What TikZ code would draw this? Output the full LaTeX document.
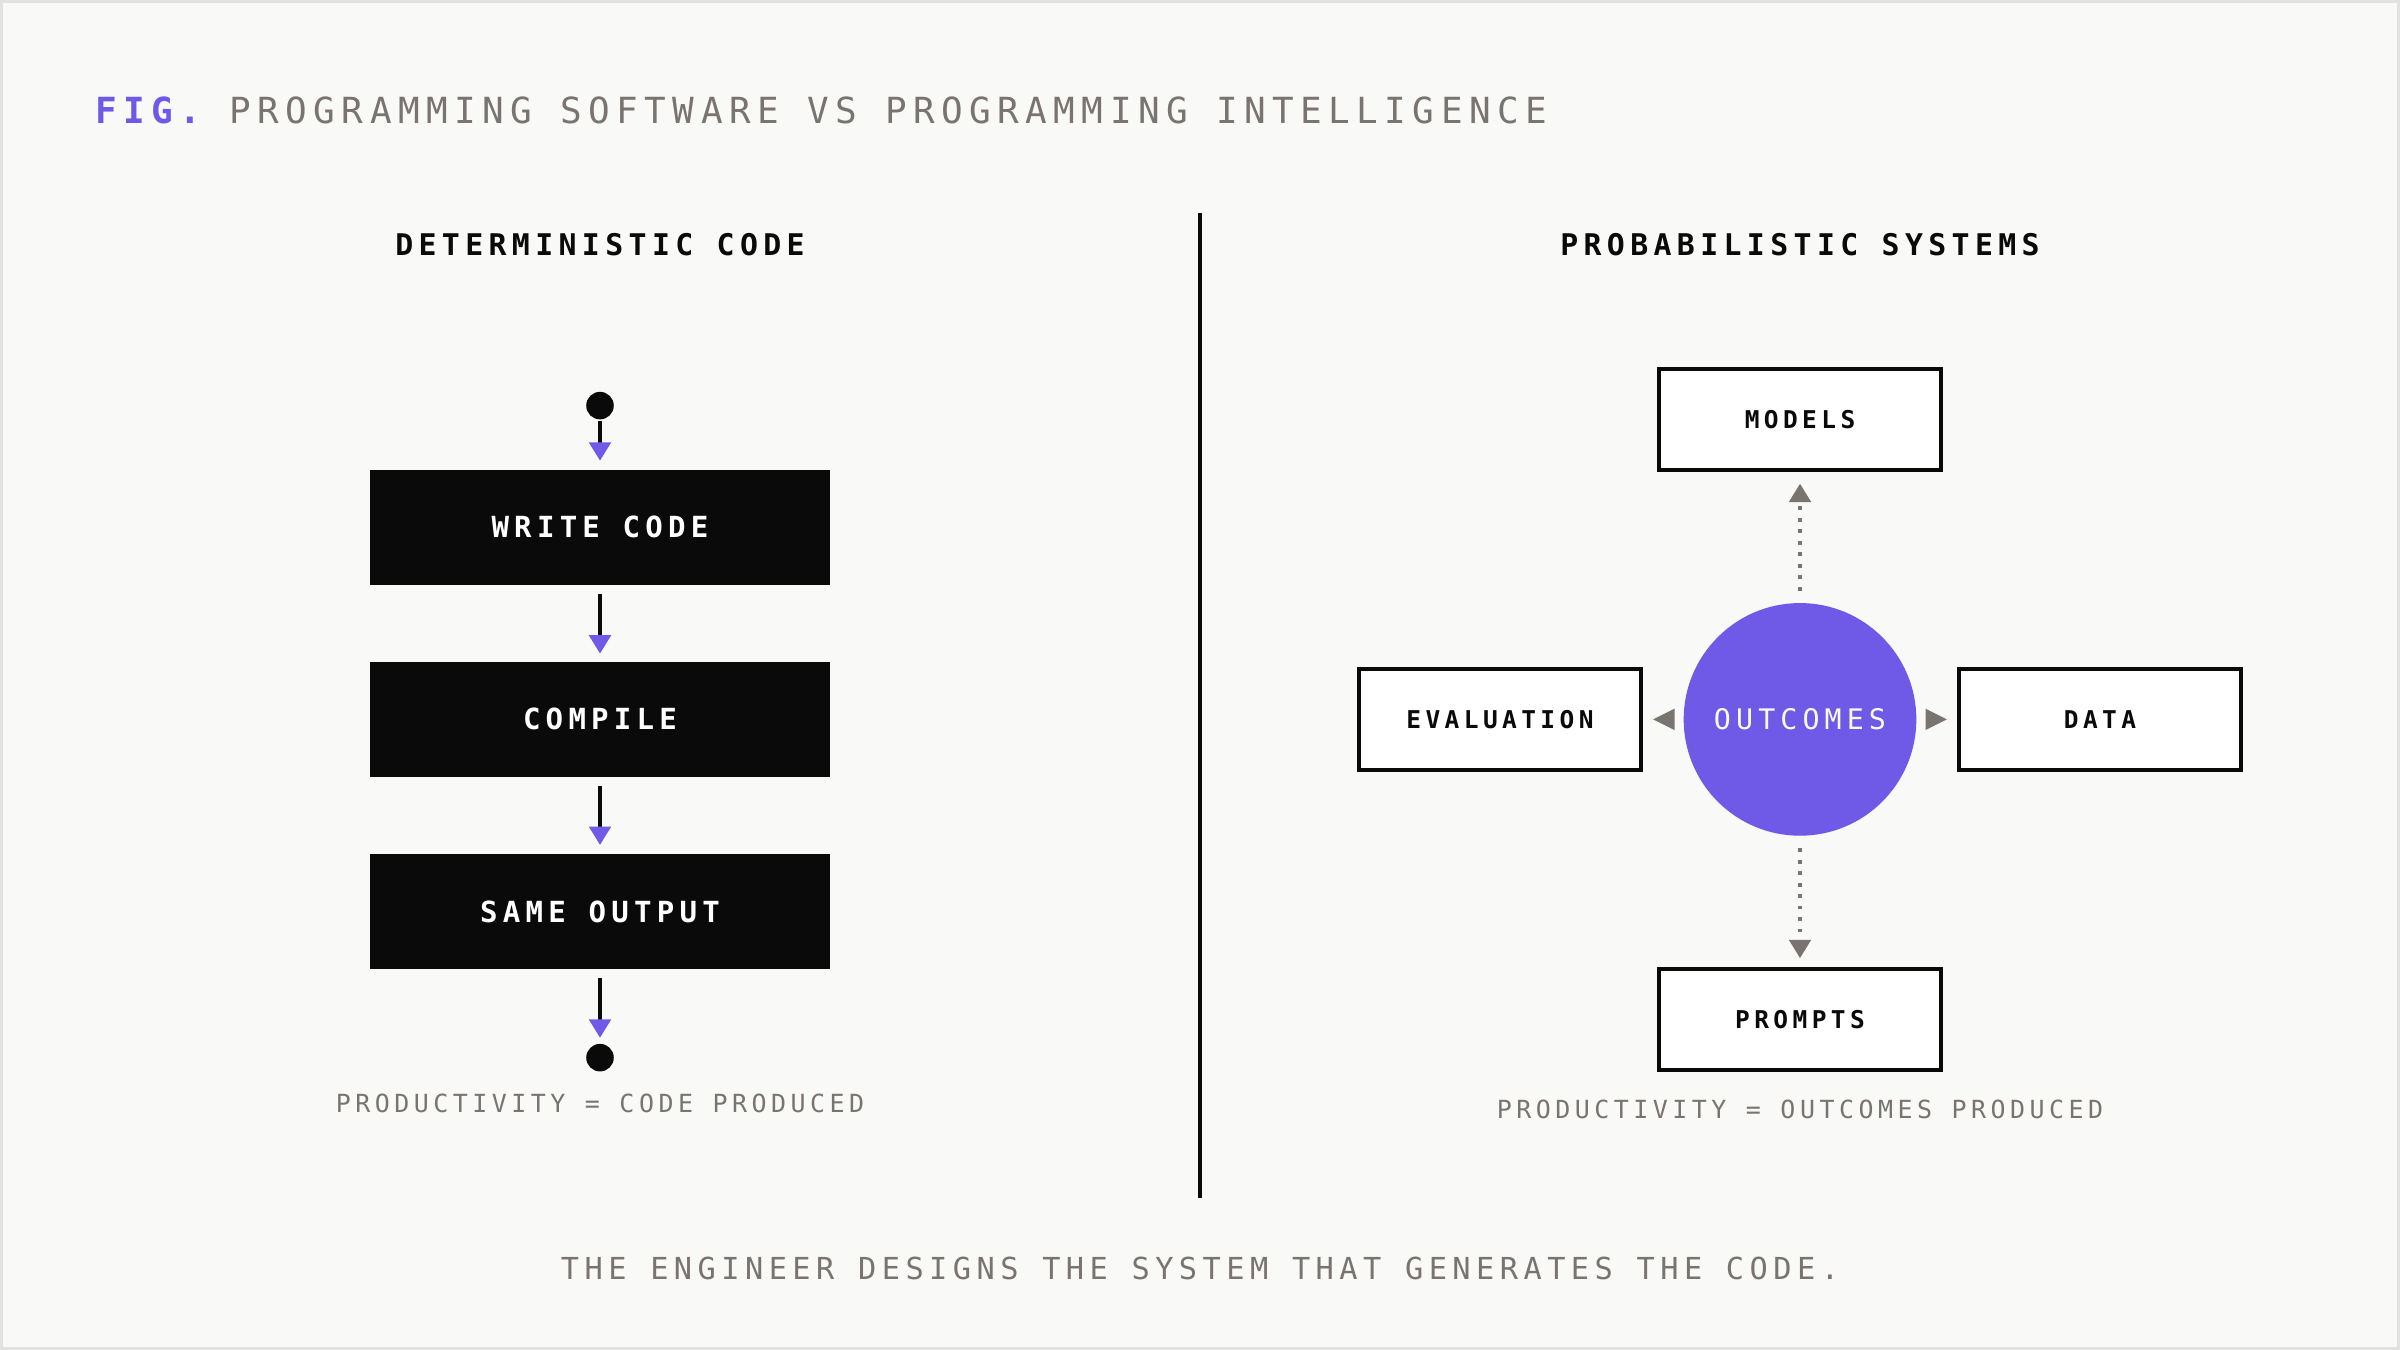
\documentclass[tikz,border=0pt]{standalone}
\usepackage{fontspec}
\setmainfont{DejaVu Sans Mono}[LetterSpace=18]
\usetikzlibrary{arrows.meta}
\definecolor{bg}{HTML}{F9F9F7}
\definecolor{frame}{HTML}{E2E2E0}
\definecolor{ink}{HTML}{0A0A0A}
\definecolor{grayt}{HTML}{7A7470}
\definecolor{purp}{HTML}{6E5AE6}
\newcommand{\fs}[1]{\fontsize{#1}{#1}\selectfont}
\tikzset{
 blk/.style={fill=ink,minimum width=300pt,minimum height=75pt,text=white,font=\fs{19}\bfseries},
 wbox/.style={draw=ink,line width=2.5pt,fill=white,minimum width=184pt,minimum height=66pt,text=ink,font=\fs{16}\bfseries},
 parr/.style={draw=ink,line width=2.5pt,-{Triangle[width=14pt,length=12pt,color=purp]}},
 garr/.style={draw=grayt,line width=2.5pt,dash pattern=on 2.5pt off 5pt,-{Triangle[width=14pt,length=12pt,fill=grayt]}},
 gtip/.style={draw=none,fill=grayt}
}
\begin{document}
\begin{tikzpicture}[x=1pt,y=-1pt]
\useasboundingbox (0,0) rectangle (1568,882);
\fill[frame] (0,0) rectangle (1568,882);
\fill[bg] (2,2) rectangle (1566,880);
\node[anchor=west,inner sep=0] (fig) at (62,72) {\fs{23.5}\bfseries\color{purp}FIG.\ \mdseries\color{grayt}PROGRAMMING SOFTWARE VS PROGRAMMING INTELLIGENCE};
\node[font=\fs{19.5}\bfseries,text=ink] (h1) at (392,160) {DETERMINISTIC CODE};
\node[font=\fs{19.5}\bfseries,text=ink] (h2) at (1176,160) {PROBABILISTIC SYSTEMS};
\draw[ink,line width=2.5pt] (784,139) -- (784,783);
% left flow
\fill[ink] (392,265) circle (9) coordinate (s);
\node[blk] (w) at (392,344.5) {WRITE CODE};
\node[blk] (c) at (392,470) {COMPILE};
\node[blk] (o) at (392,595.5) {SAME OUTPUT};
\fill[ink] (392,691) circle (9) coordinate (e);
\draw[parr] (392,275) -- (392,301);
\draw[parr] (w.south)++(0,6) -- (392,427);
\draw[parr] (c.south)++(0,6) -- (392,552);
\draw[parr] (o.south)++(0,6) -- (392,678);
\node[font=\fs{16.3},text=grayt] (p1) at (392,721) {PRODUCTIVITY = CODE PRODUCED};
% right
\node[circle,fill=purp,minimum size=152pt,inner sep=0,text=bg,font=\fs{18.5}] (oc) at (1176,470) {OUTCOMES};
\node[wbox] (m) at (1176,274) {MODELS};
\node[wbox] (ev) at (980,470) {EVALUATION};
\node[wbox] (d) at (1372,470) {DATA};
\node[wbox] (pr) at (1176,666) {PROMPTS};
\draw[garr] (oc.north)++(0,-8) -- (1176,316);
\draw[garr] (oc.south)++(0,8) -- (1176,626);
\fill[gtip] (1080,470) -- (1094,463) -- (1094,477) -- cycle;
\fill[gtip] (1272,470) -- (1258,463) -- (1258,477) -- cycle;
\node[font=\fs{16.3},text=grayt] (p2) at (1176,725) {PRODUCTIVITY = OUTCOMES PRODUCED};
\node[font=\fs{19.8},text=grayt] (bt) at (784,829) {THE ENGINEER DESIGNS THE SYSTEM THAT GENERATES THE CODE.};
\end{tikzpicture}
\end{document}
